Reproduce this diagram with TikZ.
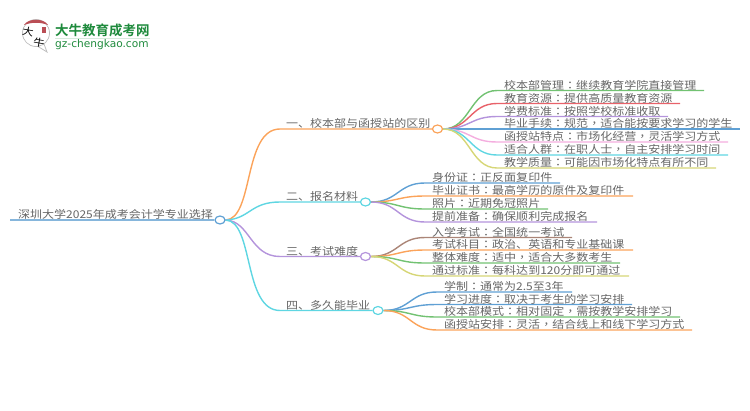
\documentclass[tikz,border=0pt]{standalone}
\usepackage{fontspec}
\setmainfont[FakeStretch=1.12]{Noto Sans CJK SC}
\newfontfamily\tcf[FakeStretch=1.12]{Noto Sans CJK TC}
\newfontfamily\boldcjk[BoldFont={Noto Sans CJK SC Bold}]{Noto Sans CJK SC}
\newfontfamily\urlf{DejaVu Sans}
\usetikzlibrary{backgrounds,calc,shapes.geometric}
\definecolor{cOrange}{HTML}{FBA35A}
\definecolor{cCyan}{HTML}{5FD6E2}
\definecolor{cPurple}{HTML}{B494DC}
\definecolor{cBlue}{HTML}{5FA0D4}
\definecolor{cGreen}{HTML}{72C272}
\definecolor{cRed}{HTML}{E8626A}
\definecolor{cPink}{HTML}{F4AEDF}
\definecolor{cYellow}{HTML}{D6D676}
\definecolor{cBrown}{HTML}{AB8577}
\definecolor{cRoot}{HTML}{86B6DC}
\definecolor{cText}{HTML}{666666}
\definecolor{cLogo}{HTML}{1E8A3C}
\newcommand{\cln}{{\tcf ：}}
\newcommand{\cma}{{\tcf ，}}
\tikzset{
  label/.style={anchor=base west,inner sep=0pt,text=cText,font=\fontsize{10.72}{14}\selectfont},
  hub/.style={ellipse,draw=#1,fill=white,line width=1.2pt,minimum width=10pt,minimum height=8pt,inner sep=0pt},
  conn/.style={line width=1.4pt,#1},
  logochar/.style={inner sep=0pt,text=black,font=\fontsize{10}{10}\selectfont,rotate=-10},
}
% name, parent, x start, x text, y line, x end, colour, text
\newcommand{\leaf}[8]{%
  \coordinate (#1s) at (#3,#5);
  \coordinate (#1e) at (#6,#5);
  \node[label] (#1) at (#4,#5-1.5) {#8};
  \begin{scope}[on background layer]
    \draw[conn=#7] (#2.east) .. controls ($(#2.east)!0.5!(#2.east-|#1s)$) and ($(#1s)!0.5!(#1s-|#2.east)$) .. (#1s) -- (#1e);
  \end{scope}
}
\begin{document}
\begin{tikzpicture}[x=1pt,y=-1pt]
\useasboundingbox (0,0) rectangle (750,410);
% logo
\fill[white,draw=black!25,line width=0.8pt] (36,33) circle (13.5);
\fill[white,draw=black!25,line width=0.8pt] (38,46.5) -- (47,52) -- (44,44) -- cycle;
\fill[white] (36,33) circle (12.8);
\fill[cRed!80!black] (24,25) .. controls (28,18) and (44,18) .. (48,25) .. controls (40,22) and (32,22) .. (24,25) -- cycle;
\fill[cRed!80!black] (42,27) rectangle (46,33);
\node[logochar] (logoa) at (28,32) {大};
\node[logochar] (logob) at (39,42.5) {牛};
\node[anchor=west,inner sep=0pt,text=cLogo,font=\boldcjk\bfseries\fontsize{13.5}{14}\selectfont] (logot) at (55,30) {大牛教育成考网};
\draw[cLogo!18,line width=1pt] (55,38.5) -- (150,38.5);
\node[anchor=west,inner sep=0pt,text=cLogo,font=\urlf\fontsize{10.6}{12}\selectfont] (logou) at (55,45) {gz-chengkao.com};
% root
\coordinate (rootl) at (10,220);
\node[hub=cBlue] (root) at (220,220) {};
\node[label] (roott) at (18,218.5) {深圳大学2025年成考会计学专业选择};
\node[hub=cOrange] (b1) at (437.5,129) {};
\node[hub=cCyan] (b2) at (365.5,202) {};
\node[hub=cPurple] (b3) at (365.5,256.5) {};
\node[hub=cCyan] (b4) at (378,310.5) {};
\begin{scope}[on background layer]
\draw[line width=2.2pt,cRoot] (rootl) -- (root);
\draw[conn=cOrange] (root.east) .. controls (254,219) and (243,129) .. (280,129) -- (b1);
\draw[conn=cCyan] (root.east) .. controls (250,219) and (250,202) .. (280,202) -- (b2);
\draw[conn=cPurple] (root.east) .. controls (250,221) and (250,256.5) .. (280,256.5) -- (b3);
\draw[conn=cCyan] (root.east) .. controls (254,221) and (243,310.5) .. (280,310.5) -- (b4);
\end{scope}
\node[label] (t1) at (286,127.5) {一、校本部与函授站的区别};
\node[label] (t2) at (286,200.5) {二、报名材料};
\node[label] (t3) at (286,255) {三、考试难度};
\node[label] (t4) at (286,309) {四、多久能毕业};
% branch 1
\leaf{a1}{b1}{497}{504}{90.5}{704}{cGreen}{校本部管理\cln 继续教育学院直接管理}
\leaf{a2}{b1}{497}{504}{103.5}{680}{cRed}{教育资源\cln 提供高质量教育资源}
\leaf{a3}{b1}{497}{504}{116.5}{668}{cPurple}{学费标准\cln 按照学校标准收取}
\leaf{a4}{b1}{497}{504}{129}{740}{cBlue}{毕业手续\cln 规范\cma 适合能按要求学习的学生}
\leaf{a5}{b1}{497}{504}{142}{728}{cPink}{函授站特点\cln 市场化经营\cma 灵活学习方式}
\leaf{a6}{b1}{497}{504}{155}{728}{cCyan}{适合人群\cln 在职人士\cma 自主安排学习时间}
\leaf{a7}{b1}{497}{504}{168}{716}{cYellow}{教学质量\cln 可能因市场化特点有所不同}
% branch 2
\leaf{c1}{b2}{425}{432}{183}{560}{cBlue}{身份证\cln 正反面复印件}
\leaf{c2}{b2}{425}{432}{196}{633}{cOrange}{毕业证书\cln 最高学历的原件及复印件}
\leaf{c3}{b2}{425}{432}{209}{548}{cGreen}{照片\cln 近期免冠照片}
\leaf{c4}{b2}{425}{432}{222}{597}{cPurple}{提前准备\cln 确保顺利完成报名}
% branch 3
\leaf{d1}{b3}{425}{432}{237.5}{572}{cBrown}{入学考试\cln 全国统一考试}
\leaf{d2}{b3}{425}{432}{250}{633}{cOrange}{考试科目\cln 政治、英语和专业基础课}
\leaf{d3}{b3}{425}{432}{263}{620}{cGreen}{整体难度\cln 适中\cma 适合大多数考生}
\leaf{d4}{b3}{425}{432}{276}{629}{cYellow}{通过标准\cln 每科达到120分即可通过}
% branch 4
\leaf{f1}{b4}{437}{444}{292}{572}{cBlue}{学制\cln 通常为2.5至3年}
\leaf{f2}{b4}{437}{444}{304.5}{632}{cBlue}{学习进度\cln 取决于考生的学习安排}
\leaf{f3}{b4}{437}{444}{317}{680}{cGreen}{校本部模式\cln 相对固定\cma 需按教学安排学习}
\leaf{f4}{b4}{437}{444}{330}{692}{cOrange}{函授站安排\cln 灵活\cma 结合线上和线下学习方式}
\end{tikzpicture}
\end{document}
